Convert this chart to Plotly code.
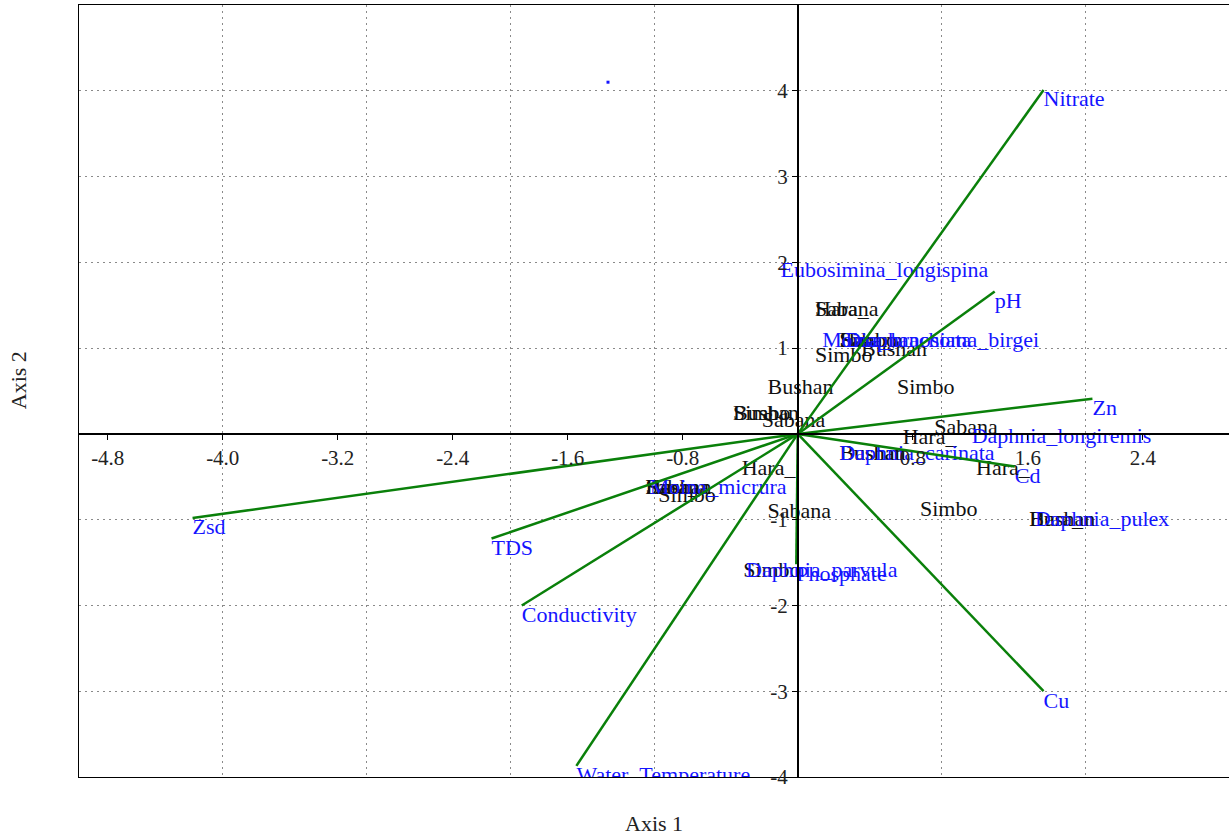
import plotly.graph_objects as go

# ---- data (CCA triplot scores) ----
site_names = ["Sabana", "Hara_", "Simbo", "Hara_", "Sabana", "Bushan", "Simbo", "Simbo",
              "Bushan", "Simbo", "Bushan", "Sabana", "Sabana", "Hara_", "Bushan", "Bushan",
              "Hara_", "Hara_", "Sabana", "Hara_", "Bushan", "Simbo", "Sabana", "Simbo",
              "Bushan", "Hara_", "Simbo"]
site_x = [0.12, 0.12, 0.29, 0.29, 0.29, 0.44, 0.12, 0.69,
          -0.21, -0.45, -0.45, -0.25, 0.95, 0.73, 0.29, 0.29,
          1.24, -0.39, -1.06, -1.06, -1.06, -0.97, -0.21, 0.85,
          1.61, 1.61, -0.38]
site_y = [1.44, 1.44, 1.08, 1.08, 1.08, 0.97, 0.90, 0.53,
          0.53, 0.23, 0.23, 0.15, 0.06, -0.05, -0.24, -0.24,
          -0.42, -0.42, -0.64, -0.64, -0.64, -0.73, -0.92, -0.89,
          -1.01, -1.01, -1.60]

species_names = ["Eubosimina_longispina", "Moina_brachiata", "Diaphanosoma_birgei",
                 "Daphnia_longiremis", "Daphnia_carinata", "Moina_micrura",
                 "Daphnia_pulex", "Daphnia_parvula"]
species_x = [-0.12, 0.17, 0.33, 1.21, 0.29, -1.03, 1.65, -0.36]
species_y = [1.89, 1.08, 1.08, -0.04, -0.24, -0.64, -1.01, -1.60]

unlabeled_x = [-1.32]
unlabeled_y = [4.10]

env_names = ["Nitrate", "pH", "Zn", "Cd", "Cu", "Phosphate",
             "Water_Temperature", "Conductivity", "TDS", "Zsd"]
env_x = [1.71, 1.37, 2.05, 1.51, 1.71, -0.01, -1.54, -1.92, -2.13, -4.21]
env_y = [4.01, 1.66, 0.41, -0.38, -3.00, -1.52, -3.87, -2.00, -1.22, -0.98]

x_ticks = [-4.8, -4.0, -3.2, -2.4, -1.6, -0.8, 0.8, 1.6, 2.4]
y_ticks = [-4, -3, -2, -1, 1, 2, 3, 4]
grid_x = [-4, -3, -2, -1, 1, 2]
grid_y = [-4, -3, -2, -1, 1, 2, 3, 4]

FONT = "Liberation Serif"
BLUE = "#1414ff"
GREEN = "#0a800a"
LBL = 22
TCK = 21

fig = go.Figure()

# vector lines (origin -> score)
lx, ly = [], []
for ex, ey in zip(env_x, env_y):
    lx += [0, ex, None]
    ly += [0, ey, None]
fig.add_trace(go.Scatter(x=lx, y=ly, mode="lines", line=dict(color=GREEN, width=2.5),
                         xaxis="x2", yaxis="y2", hoverinfo="skip"))

fig.add_trace(go.Scatter(x=env_x, y=env_y, mode="text", text=env_names,
                         textposition="bottom right",
                         textfont=dict(family=FONT, size=LBL, color=BLUE)))

fig.add_trace(go.Scatter(x=site_x, y=site_y, mode="text", text=site_names,
                         textposition="middle right",
                         textfont=dict(family=FONT, size=LBL, color="#111111")))

fig.add_trace(go.Scatter(x=species_x, y=species_y, mode="text", text=species_names,
                         textposition="middle right",
                         textfont=dict(family=FONT, size=LBL, color=BLUE)))

fig.add_trace(go.Scatter(x=unlabeled_x, y=unlabeled_y, mode="markers",
                         marker=dict(color=BLUE, size=3, symbol="square")))

fig.update_layout(
    width=1229, height=836,
    margin=dict(l=79, r=0, t=5, b=59),
    plot_bgcolor="white", paper_bgcolor="white",
    showlegend=False,
    font=dict(family=FONT, size=TCK, color="#222222"),
    xaxis=dict(range=[-5, 3], tickvals=grid_x, showticklabels=False, ticks="",
               showgrid=True, gridcolor="#8a8a8a", gridwidth=1, griddash="2px,4px",
               zeroline=False, showline=True, mirror=True, linecolor="black", linewidth=1),
    yaxis=dict(range=[-4, 5], tickvals=grid_y, showticklabels=False, ticks="",
               showgrid=True, gridcolor="#8a8a8a", gridwidth=1, griddash="2px,4px",
               zeroline=False, showline=True, mirror=True, linecolor="black", linewidth=1),
    xaxis2=dict(overlaying="x", anchor="free", position=4/9, range=[-5, 3],
                tickvals=x_ticks, ticktext=["%.1f" % v for v in x_ticks],
                ticks="outside", ticklen=5, tickcolor="black", showgrid=False,
                zeroline=False, showline=True, linecolor="black", linewidth=1.5,
                tickfont=dict(family=FONT, size=TCK, color="#222222")),
    yaxis2=dict(overlaying="y", anchor="free", position=5/8, range=[-4, 5],
                tickvals=y_ticks, ticktext=[str(v) for v in y_ticks],
                ticks="outside", ticklen=5, tickcolor="black", showgrid=False,
                zeroline=False, showline=True, linecolor="black", linewidth=1.5,
                tickfont=dict(family=FONT, size=TCK, color="#222222")),
    annotations=[
        dict(text="Axis 1", xref="paper", yref="paper", x=0.5, y=-0.06,
             xanchor="center", yanchor="middle", showarrow=False,
             font=dict(family=FONT, size=LBL, color="#222222")),
        dict(text="Axis 2", xref="paper", yref="paper", x=-0.053, y=0.514,
             xanchor="center", yanchor="middle", showarrow=False, textangle=-90,
             font=dict(family=FONT, size=LBL, color="#222222")),
    ],
)

fig.write_html("out.html", config={"displayModeBar": False},
               post_script="document.body.style.margin='0';")
